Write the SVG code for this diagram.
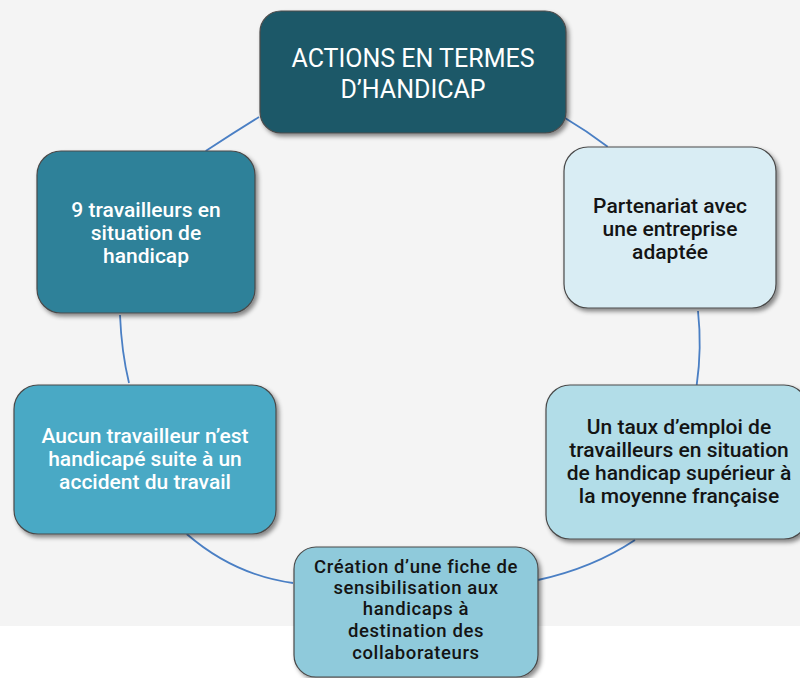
<svg xmlns="http://www.w3.org/2000/svg" width="800" height="678" viewBox="0 0 800 678">
<defs>
<filter id="sh" x="-10%" y="-10%" width="125%" height="130%">
<feDropShadow dx="2.5" dy="3" stdDeviation="2" flood-color="#000" flood-opacity="0.45"/>
</filter>
<style>
.node rect{stroke:#4a4a4a;stroke-width:1.2;filter:url(#sh)}
.t{font-family:Roboto,"Liberation Sans",sans-serif;font-weight:500;font-size:21px;text-anchor:middle}
.w{fill:#ffffff}
.d{fill:#141414}
.s{font-size:18.5px;letter-spacing:0.6px}
.h{font-size:25px;font-weight:400}
.conn path{fill:none;stroke:#4a7fc4;stroke-width:1.8}
</style>
</defs>
<rect x="0" y="0" width="800" height="626" fill="#f4f4f4"/>
<rect x="0" y="626" width="800" height="52" fill="#ffffff"/>
<g id="connectors" class="conn">
<path d="M205.7,151 Q233.6,132.6 259,117"/>
<path d="M565,118 Q587,131 607.7,146.7"/>
<path d="M120,315 Q121.5,352 129,383"/>
<path d="M698,311 Q702,348 696.7,385"/>
<path d="M186.7,534 Q234,575 293,583"/>
<path d="M538,580 Q593,568 635,540"/>
</g>
<g id="n0" class="node">
<rect x="260" y="11" width="306" height="122" rx="21" fill="#1f5868"/>
<text class="t w h" x="413" y="67">ACTIONS EN TERMES</text>
<text class="t w h" x="413" y="97.5">D’HANDICAP</text>
</g>
<g id="n1" class="node">
<rect x="564" y="147" width="212" height="161" rx="24" fill="#d9edf4"/>
<text class="t d" x="670" y="213">Partenariat avec</text>
<text class="t d" x="670" y="236">une entreprise</text>
<text class="t d" x="670" y="259">adaptée</text>
</g>
<g id="n2" class="node">
<rect x="546" y="385" width="262" height="154" rx="24" fill="#b2dde8"/>
<text class="t d" x="679" y="434">Un taux d’emploi de</text>
<text class="t d" x="679" y="457">travailleurs en situation</text>
<text class="t d" x="679" y="479.5">de handicap supérieur à</text>
<text class="t d" x="679" y="503">la moyenne française</text>
</g>
<g id="n3" class="node">
<rect x="294" y="547" width="244" height="130" rx="22" fill="#8fcadb"/>
<text class="t d s" x="416" y="573">Création d’une fiche de</text>
<text class="t d s" x="416" y="594">sensibilisation aux</text>
<text class="t d s" x="416" y="615">handicaps à</text>
<text class="t d s" x="416" y="637">destination des</text>
<text class="t d s" x="416" y="659">collaborateurs</text>
</g>
<g id="n4" class="node">
<rect x="14" y="385" width="262" height="149" rx="24" fill="#48a9c5"/>
<text class="t w" x="145" y="443">Aucun travailleur n’est</text>
<text class="t w" x="145" y="466">handicapé suite à un</text>
<text class="t w" x="145" y="489">accident du travail</text>
</g>
<g id="n5" class="node">
<rect x="37" y="151" width="218" height="162" rx="24" fill="#2f8199"/>
<text class="t w" x="146" y="217">9 travailleurs en</text>
<text class="t w" x="146" y="240">situation de</text>
<text class="t w" x="146" y="263">handicap</text>
</g>
</svg>
